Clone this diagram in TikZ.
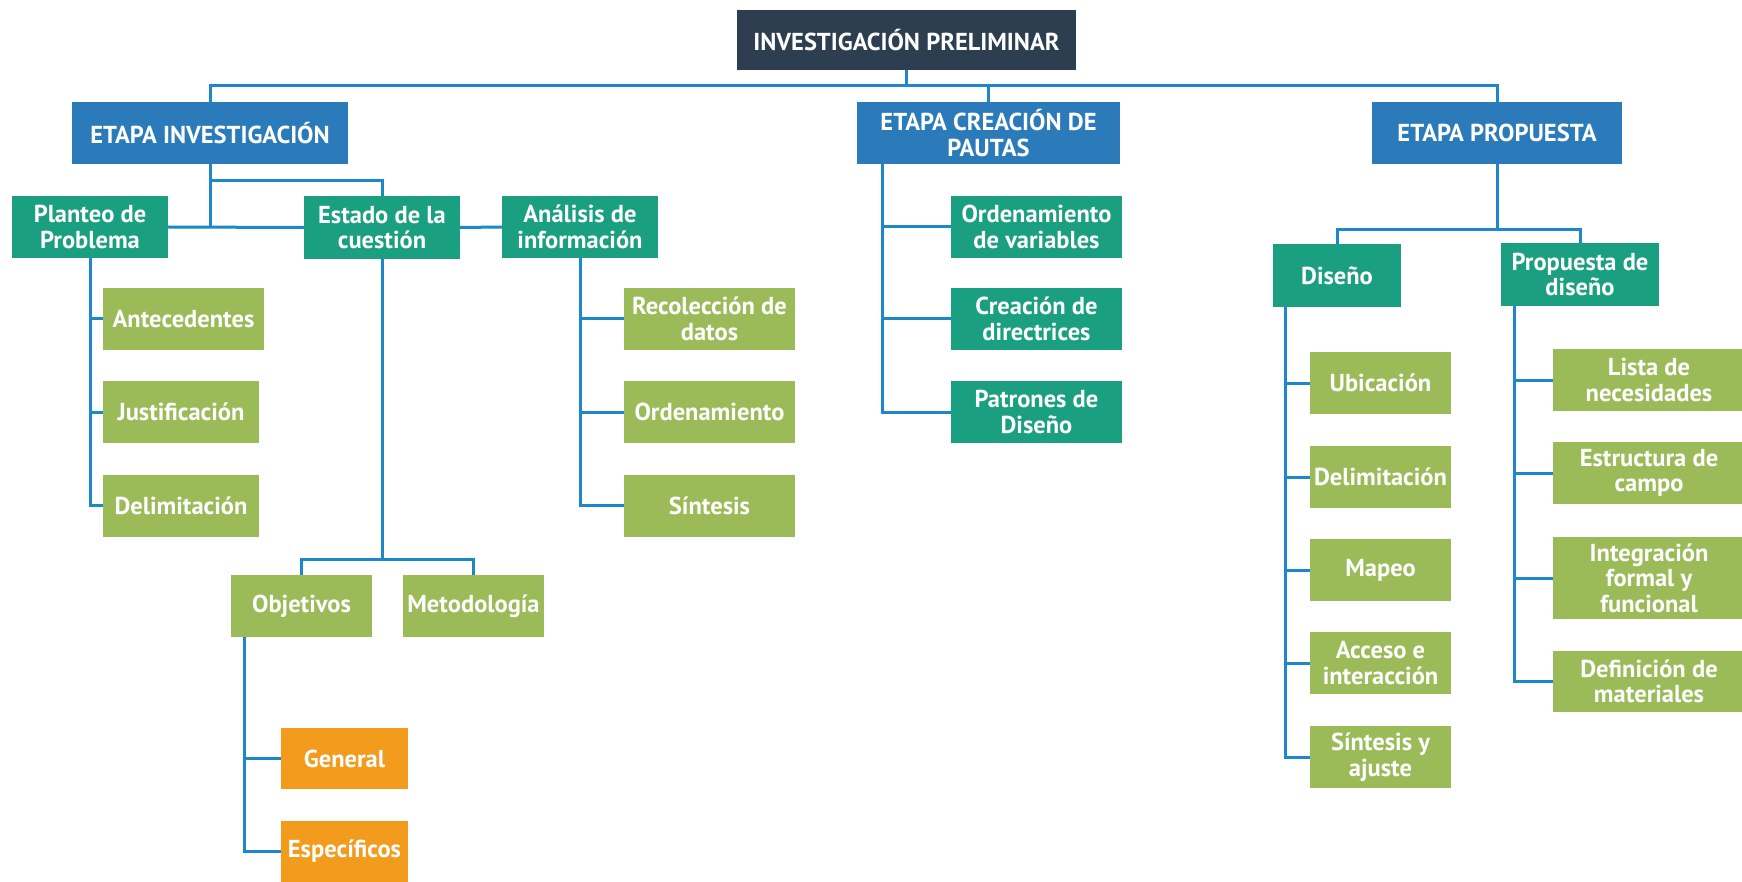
\documentclass[tikz,border=0pt]{standalone}
\usepackage{fontspec}
\setmainfont{PT Sans}
\definecolor{navy}{HTML}{2D3E50}
\definecolor{etapa}{HTML}{2B7BBA}
\definecolor{tealc}{HTML}{1A9F80}
\definecolor{greenc}{HTML}{9BBB59}
\definecolor{orangec}{HTML}{F29B1D}
\definecolor{linec}{HTML}{1C87C9}
\tikzset{
  boxbase/.style={draw=none, text=white, align=center, inner sep=0pt, font=\fontsize{24.5}{25.5}\selectfont\bfseries},
  rootbox/.style={boxbase, fill=navy},
  etapabox/.style={boxbase, fill=etapa},
  tealbox/.style={boxbase, fill=tealc},
  greenbox/.style={boxbase, fill=greenc},
  orangebox/.style={boxbase, fill=orangec},
  conn/.style={draw=linec, line width=3pt}
}
\begin{document}
\begin{tikzpicture}[x=1pt,y=-1pt]
\useasboundingbox (0,0) rectangle (1742,882);
\fill[white] (0,0) rectangle (1742,882);
\begin{scope}
\clip (0,0) rectangle (1742,882);
% root and stages
\node[rootbox, minimum width=339, minimum height=60] (root) at (906.5,40) {INVESTIGACIÓN PRELIMINAR};
\node[etapabox, minimum width=276, minimum height=62] (ei) at (210,133) {ETAPA INVESTIGACIÓN};
\node[etapabox, minimum width=263, minimum height=62] (ec) at (988.5,133) {ETAPA CREACIÓN DE\\PAUTAS};
\node[etapabox, minimum width=250, minimum height=62] (ep) at (1497,133) {ETAPA PROPUESTA};
% investigacion
\node[tealbox, minimum width=156, minimum height=62] (plan) at (90,227) {Planteo de\\Problema};
\node[tealbox, minimum width=156, minimum height=63] (est) at (382,227.5) {Estado de la\\cuestión};
\node[tealbox, minimum width=156, minimum height=62] (ana) at (580,227) {Análisis de\\información};
\node[greenbox, minimum width=161, minimum height=62] (ant) at (183.5,319) {Antecedentes};
\node[greenbox, minimum width=156, minimum height=62] (jus) at (181,412) {Justificación};
\node[greenbox, minimum width=156, minimum height=62] (del) at (181,505.5) {Delimitación};
\node[greenbox, minimum width=141, minimum height=62] (obj) at (301.5,606) {Objetivos};
\node[greenbox, minimum width=141, minimum height=62] (met) at (473.5,606) {Metodología};
\node[orangebox, minimum width=127, minimum height=61] (gen) at (344.5,758.5) {General};
\node[orangebox, minimum width=127, minimum height=61] (esp) at (344.5,851.5) {Específicos};
\node[greenbox, minimum width=171, minimum height=62] (rec) at (709.5,319) {Recolección de\\datos};
\node[greenbox, minimum width=171, minimum height=62] (ord) at (709.5,412) {Ordenamiento};
\node[greenbox, minimum width=171, minimum height=62] (sin) at (709.5,505.5) {Síntesis};
% creacion
\node[tealbox, minimum width=171, minimum height=62] (ov) at (1036.5,227) {Ordenamiento\\de variables};
\node[tealbox, minimum width=171, minimum height=62] (cd) at (1036.5,319) {Creación de\\directrices};
\node[tealbox, minimum width=171, minimum height=62] (pd) at (1036.5,412) {Patrones de\\Diseño};
% propuesta
\node[tealbox, minimum width=128, minimum height=63] (dis) at (1337,275.5) {Diseño};
\node[tealbox, minimum width=158, minimum height=63] (pdd) at (1580,274.5) {Propuesta de\\diseño};
\node[greenbox, minimum width=141, minimum height=62] (ubi) at (1380.5,383) {Ubicación};
\node[greenbox, minimum width=141, minimum height=62] (del2) at (1380.5,477) {Delimitación};
\node[greenbox, minimum width=141, minimum height=62] (map) at (1380.5,570) {Mapeo};
\node[greenbox, minimum width=141, minimum height=62] (acc) at (1380.5,663) {Acceso e\\interacción};
\node[greenbox, minimum width=141, minimum height=62] (sya) at (1380.5,757) {Síntesis y\\ajuste};
\node[greenbox, minimum width=192, minimum height=62] (lis) at (1649,380) {Lista de\\necesidades};
\node[greenbox, minimum width=192, minimum height=62] (estr) at (1649,473) {Estructura de\\campo};
\node[greenbox, minimum width=192, minimum height=82] (int) at (1649,578) {Integración\\formal y\\funcional};
\node[greenbox, minimum width=192, minimum height=61] (def) at (1649,681.5) {Definición de\\materiales};
\end{scope}
% coordinates
\coordinate (bus) at (0,86);
\coordinate (eib) at (ei.south |- 0,181);
\coordinate (ej) at (est.south |- 0,559);
\coordinate (ot) at (244,637);
\coordinate (ct) at (882,164);
\coordinate (pj) at (ep.south |- 0,230);
\coordinate (dt) at (1285,307);
\coordinate (pt) at (1514,306);
% connectors
\draw[conn] (root.south) -- (root.south |- bus);
\draw[conn] (ei.north) -- (ei.north |- bus) -| (ep.north);
\draw[conn] (ec.north) -- (ec.north |- bus);
\draw[conn] (ei.south) -- (ei.south |- plan.east);
\draw[conn] (plan.east) -- (est.west);
\draw[conn] (eib) -| (est.north);
\draw[conn] (est.east) -- (ana.west);
\draw[conn] (plan.south) |- (del.west);
\draw[conn] (plan.south |- ant.west) -- (ant.west);
\draw[conn] (plan.south |- jus.west) -- (jus.west);
\draw[conn] (est.south) -- (ej);
\draw[conn] (obj.north) |- (ej) -| (met.north);
\draw[conn] (ot) |- (esp.west);
\draw[conn] (ot |- gen.west) -- (gen.west);
\draw[conn] (ana.south) |- (sin.west);
\draw[conn] (ana.south |- rec.west) -- (rec.west);
\draw[conn] (ana.south |- ord.west) -- (ord.west);
\draw[conn] (ct) |- (pd.west);
\draw[conn] (ct |- ov.west) -- (ov.west);
\draw[conn] (ct |- cd.west) -- (cd.west);
\draw[conn] (ep.south) -- (pj);
\draw[conn] (dis.north) |- (pj) -| (pdd.north);
\draw[conn] (dt) |- (sya.west);
\draw[conn] (dt |- ubi.west) -- (ubi.west);
\draw[conn] (dt |- del2.west) -- (del2.west);
\draw[conn] (dt |- map.west) -- (map.west);
\draw[conn] (dt |- acc.west) -- (acc.west);
\draw[conn] (pt) |- (def.west);
\draw[conn] (pt |- lis.west) -- (lis.west);
\draw[conn] (pt |- estr.west) -- (estr.west);
\draw[conn] (pt |- int.west) -- (int.west);
\end{tikzpicture}
\end{document}
